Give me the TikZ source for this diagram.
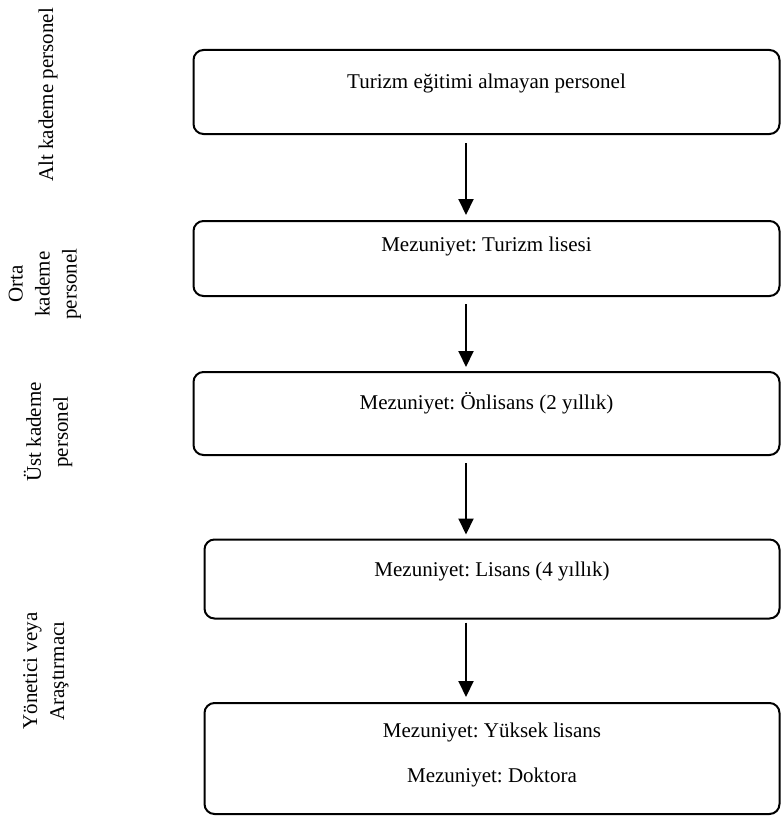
\documentclass[tikz,border=0pt]{standalone}
\usepackage{fontspec}
\setmainfont{Liberation Serif}
\usetikzlibrary{arrows.meta}
\frenchspacing
\begin{document}
\begin{tikzpicture}[x=1pt,y=-1pt,
  box/.style={draw,line width=2pt,rounded corners=10pt,inner sep=0pt},
  txt/.style={inner sep=0pt,font=\fontsize{21}{26}\selectfont},
  side/.style={inner sep=0pt,rotate=90,align=center,font=\fontsize{21}{27}\selectfont},
  arr/.style={line width=2pt,-{Triangle[width=15pt,length=16pt]}}]
\useasboundingbox (0,0) rectangle (781,816);
% boxes
\node[box,minimum width=586pt,minimum height=84pt] (b1) at (486.5,92) {};
\node[box,minimum width=586pt,minimum height=75pt] (b2) at (486.5,258.5) {};
\node[box,minimum width=586pt,minimum height=83pt] (b3) at (486.5,413.5) {};
\node[box,minimum width=575pt,minimum height=79pt] (b4) at (492,579) {};
\node[box,minimum width=575pt,minimum height=111pt] (b5) at (492,758.5) {};
% texts
\node[txt] (t1) at (486.5,83) {Turizm eğitimi almayan personel};
\node[txt] (t2) at (486.5,246) {Mezuniyet: Turizm lisesi};
\node[txt] (t3) at (486.5,403) {Mezuniyet: Önlisans (2 yıllık)};
\node[txt] (t4) at (492,571) {Mezuniyet: Lisans (4 yıllık)};
\node[txt] (t5a) at (492,732) {Mezuniyet: Yüksek lisans};
\node[txt] (t5b) at (492,777) {Mezuniyet: Doktora};
% side labels
\node[side] (s1) at (48,95) {Alt kademe personel};
\node[side] (s2) at (45,284) {Orta\\kademe\\personel};
\node[side] (s3) at (48,432) {Üst kademe\\personel};
\node[side] (s4) at (46,671) {Yönetici veya\\Araştırmacı};
% arrows
\coordinate (ax) at (466,0);
\draw[arr] ([yshift=-8pt]b1.south -| ax) -- ([yshift=5pt]b2.north -| ax);
\draw[arr] ([yshift=-7pt]b2.south -| ax) -- ([yshift=4pt]b3.north -| ax);
\draw[arr] ([yshift=-7pt]b3.south -| ax) -- ([yshift=4pt]b4.north -| ax);
\draw[arr] ([yshift=-3pt]b4.south -| ax) -- ([yshift=5pt]b5.north -| ax);
\end{tikzpicture}
\end{document}
